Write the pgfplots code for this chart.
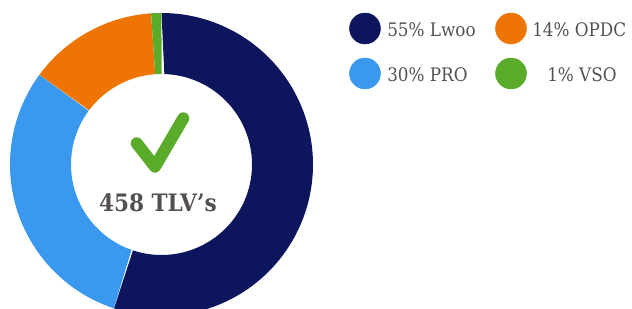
\documentclass[border=0pt]{standalone}
\usepackage{fontspec}
\setmainfont{DejaVu Serif Condensed}
\usepackage{pgfplots}
\usepackage{pgfplotstable}
\pgfplotsset{compat=1.18}
\definecolor{lwoo}{HTML}{0D165C}
\definecolor{pro}{HTML}{3A98EE}
\definecolor{opdc}{HTML}{EE7503}
\definecolor{vso}{HTML}{5AAB2A}
\definecolor{txt}{HTML}{555050}
\pgfplotstableread{
label value
Lwoo 55.1
PRO 30.0
OPDC 13.8
VSO 1.1
}\datatable
\begin{document}
\begin{tikzpicture}
\pgfplotstablegetelem{0}{value}\of\datatable \let\vA\pgfplotsretval
\pgfplotstablegetelem{1}{value}\of\datatable \let\vB\pgfplotsretval
\pgfplotstablegetelem{2}{value}\of\datatable \let\vC\pgfplotsretval
\pgfplotstablegetelem{3}{value}\of\datatable \let\vD\pgfplotsretval
\pgfmathsetmacro\aA{90}
\pgfmathsetmacro\aB{\aA-3.6*\vA}
\pgfmathsetmacro\aC{\aB-3.6*\vB}
\pgfmathsetmacro\aD{\aC-3.6*\vC}
\pgfmathsetmacro\aE{\aD-3.6*\vD}
\begin{axis}[x=0.75pt,y=0.75pt,xmin=0,xmax=632,ymin=0,ymax=309,hide axis,
  anchor=south west, at={(0,0)},
  declare function={rr(\t)=(\t<=1.0005)*151.5+(\t>1.0005)*90.5;
                    ang(\t,\a,\b)=\a+(\b-\a)*min(\t,(2-\t)/0.999);},
  slice/.style={draw=none, variable=\t,
    samples at={0,0.01,...,1,1.001,1.01,1.02,...,2}}]
\addplot[slice, fill=lwoo] ({161.5+rr(\t)*cos(ang(\t,\aA,\aB))},{144.5+rr(\t)*sin(ang(\t,\aA,\aB))}) -- cycle;
\addplot[slice, fill=pro] ({161.5+rr(\t)*cos(ang(\t,\aB,\aC))},{144.5+rr(\t)*sin(ang(\t,\aB,\aC))}) -- cycle;
\addplot[slice, fill=opdc] ({161.5+rr(\t)*cos(ang(\t,\aC,\aD))},{144.5+rr(\t)*sin(ang(\t,\aC,\aD))}) -- cycle;
\addplot[slice, fill=vso] ({161.5+rr(\t)*cos(ang(\t,\aD,\aE))},{144.5+rr(\t)*sin(ang(\t,\aD,\aE))}) -- cycle;
% checkmark
\addplot[vso, line width=9pt, line cap=round, line join=round] coordinates {(136.7,165.7)(155,142.3)(183.3,190.7)};
% legend markers
\addplot[only marks, mark=*, mark size=11.6pt, color=lwoo] coordinates {(365,280.5)};
\addplot[only marks, mark=*, mark size=11.6pt, color=opdc] coordinates {(511,280.5)};
\addplot[only marks, mark=*, mark size=11.6pt, color=pro] coordinates {(365,235.5)};
\addplot[only marks, mark=*, mark size=11.6pt, color=vso] coordinates {(511,235.5)};
\node[anchor=base west, text=txt, font=\fontsize{14}{16}\selectfont, inner sep=0pt] at (axis cs:387,272.3) {55\% Lwoo};
\node[anchor=base west, text=txt, font=\fontsize{14}{16}\selectfont, inner sep=0pt] at (axis cs:532,272.3) {14\% OPDC};
\node[anchor=base west, text=txt, font=\fontsize{14}{16}\selectfont, inner sep=0pt] at (axis cs:387,227.3) {30\% PRO};
\node[anchor=base west, text=txt, font=\fontsize{14}{16}\selectfont, inner sep=0pt] at (axis cs:547,227.3) {1\% VSO};
\node[anchor=base, text=txt, font=\bfseries\fontsize{18}{21}\selectfont, inner sep=0pt] at (axis cs:158,97) {458 TLV’s};
\end{axis}
\pgfresetboundingbox
\path (0,0) rectangle (474pt,231.75pt);
\end{tikzpicture}
\end{document}
